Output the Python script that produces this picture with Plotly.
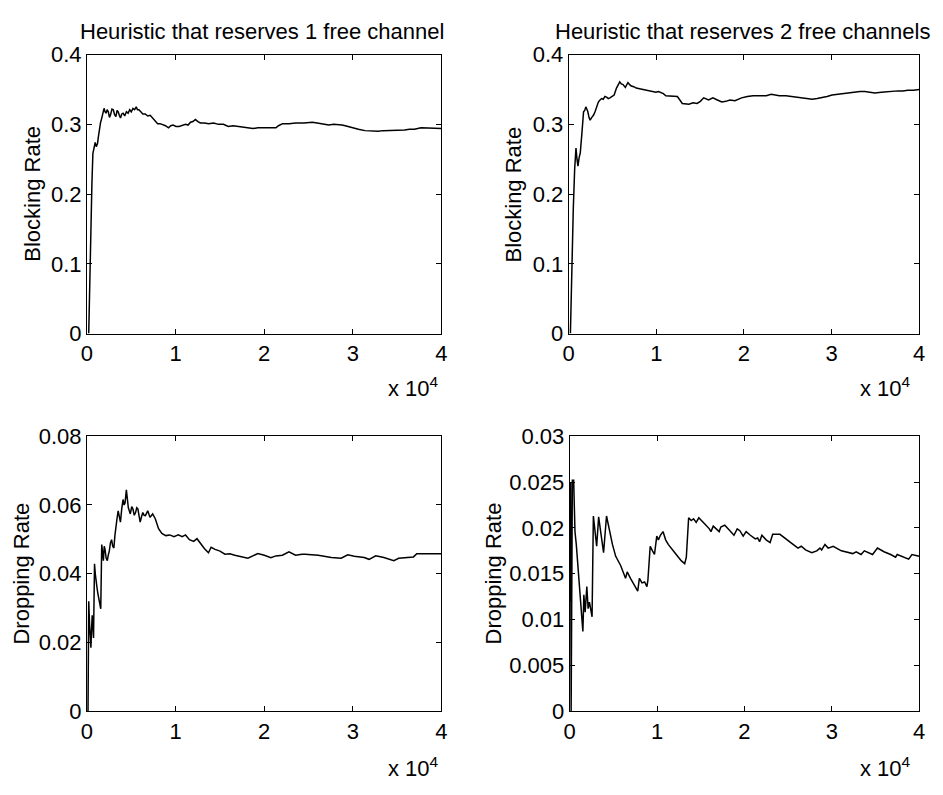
import plotly.graph_objects as go

# ---------------- data ----------------
# Top-left: blocking rate, heuristic reserving 1 free channel
bl1_x = [200, 330, 446, 560, 668, 800, 928, 1050, 1187, 1300, 1410, 1540, 1670, 1800, 1930, 2040, 2150,
         2280, 2410, 2540, 2670, 2820, 2970, 3120, 3265, 3400, 3525, 3650, 3785, 3930, 4080, 4260, 4450,
         4640, 4820, 5000, 5195, 5380, 5565, 5700, 5860, 6080, 6300, 6580, 6860, 7140, 7420, 7700, 7980,
         8250, 8530, 8860, 9200, 9460, 9720, 10050, 10390, 10760, 11130, 11410, 11690, 11960, 12240, 12520,
         12800, 13270, 13730, 14290, 14840, 15400, 15950, 16500, 17070, 17620, 18180, 18730, 19290, 19850,
         20400, 20870, 21330, 21610, 21890, 22080, 22800, 23570, 24500, 25430, 25980, 26540, 27290, 27850,
         28400, 28780, 29150, 29890, 30640, 31380, 32120, 32860, 33420, 33980, 34720, 35280, 35840, 36400,
         36950, 37700, 38250, 38810, 39400, 40000]
bl1_y = [0.000, 0.090, 0.140, 0.215, 0.258, 0.266, 0.274, 0.268, 0.272, 0.283, 0.297, 0.303, 0.309, 0.318,
         0.323, 0.318, 0.316, 0.321, 0.318, 0.310, 0.314, 0.322, 0.321, 0.314, 0.311, 0.320, 0.318, 0.313,
         0.309, 0.315, 0.316, 0.312, 0.318, 0.316, 0.321, 0.318, 0.323, 0.321, 0.325, 0.321, 0.321, 0.318,
         0.315, 0.315, 0.312, 0.313, 0.309, 0.306, 0.301, 0.301, 0.300, 0.298, 0.295, 0.298, 0.299, 0.297,
         0.297, 0.299, 0.300, 0.299, 0.303, 0.304, 0.307, 0.304, 0.302, 0.302, 0.301, 0.302, 0.300, 0.300,
         0.297, 0.298, 0.297, 0.296, 0.295, 0.294, 0.295, 0.295, 0.295, 0.294, 0.295, 0.298, 0.300, 0.301,
         0.301, 0.302, 0.302, 0.303, 0.302, 0.301, 0.299, 0.300, 0.300, 0.299, 0.298, 0.295, 0.293, 0.291,
         0.290, 0.290, 0.291, 0.291, 0.292, 0.291, 0.292, 0.293, 0.293, 0.295, 0.295, 0.294, 0.294, 0.294]

# Top-right: blocking rate, heuristic reserving 2 free channels
bl2_x = [190, 280, 375, 520, 676, 826, 940, 1050, 1180, 1315, 1500, 1690, 1820, 1950, 2060, 2180, 2310,
         2440, 2630, 2820, 3000, 3190, 3380, 3570, 3750, 3940, 4130, 4320, 4510, 4700, 4940, 5180, 5450,
         5640, 5820, 6000, 6200, 6460, 6760, 6950, 7140, 7420, 7700, 8080, 8450, 8820, 9200, 9580, 9950,
         10240, 10520, 10800, 11080, 11550, 12020, 12400, 12960, 13340, 13710, 14180, 14650, 15020, 15400,
         15960, 16450, 16960, 17470, 17930, 18400, 18970, 19720, 20380, 21030, 21780, 22540, 23100, 23570,
         24040, 24790, 25540, 26290, 27040, 27790, 28350, 28920, 29480, 30050, 30610, 31170, 31920, 32680,
         33240, 33800, 34370, 34930, 35680, 36430, 37000, 37560, 38130, 38690, 39350, 40000]
bl2_y = [0.000, 0.060, 0.110, 0.180, 0.236, 0.266, 0.250, 0.240, 0.252, 0.259, 0.287, 0.318, 0.320,
         0.325, 0.322, 0.318, 0.310, 0.306, 0.310, 0.313, 0.318, 0.325, 0.332, 0.335, 0.337, 0.336, 0.340,
         0.339, 0.337, 0.338, 0.340, 0.342, 0.352, 0.357, 0.361, 0.358, 0.357, 0.353, 0.360, 0.357, 0.355,
         0.354, 0.352, 0.351, 0.350, 0.350, 0.349, 0.348, 0.346, 0.347, 0.346, 0.344, 0.341, 0.341, 0.340,
         0.340, 0.330, 0.330, 0.329, 0.331, 0.330, 0.333, 0.338, 0.335, 0.338, 0.335, 0.332, 0.333, 0.335,
         0.334, 0.338, 0.340, 0.341, 0.341, 0.341, 0.343, 0.342, 0.341, 0.341, 0.340, 0.338, 0.337, 0.336,
         0.337, 0.338, 0.340, 0.342, 0.343, 0.344, 0.345, 0.347, 0.347, 0.347, 0.346, 0.345, 0.346, 0.347,
         0.347, 0.348, 0.348, 0.349, 0.349, 0.350]

# Bottom-left: dropping rate, heuristic reserving 1 free channel
dr1_x = [120, 200, 297, 445, 520, 593, 741, 853, 940, 1038, 1130, 1223, 1320, 1409, 1490, 1557, 1668,
         1760, 1854, 1950, 2039, 2170, 2298, 2410, 2521, 2650, 2780, 2910, 3040, 3150, 3262, 3390, 3522,
         3650, 3781, 3930, 4078, 4190, 4300, 4448, 4560, 4671, 4893, 5050, 5190, 5340, 5486, 5620, 5746,
         6005, 6150, 6302, 6450, 6598, 6858, 7117, 7414, 7711, 8081, 8452, 8897, 9342, 9824, 10306, 10750,
         11121, 11566, 12048, 12418, 12789, 13271, 13716, 14012, 14457, 15013, 15570, 16125, 16680, 17423,
         18164, 18720, 19276, 20018, 20760, 21316, 22057, 22798, 23540, 24281, 24615, 26100, 27580, 28690,
         29430, 30170, 31290, 31840, 32590, 33510, 34630, 35180, 36110, 36850, 37220, 38330, 40000]
dr1_y = [0.0000, 0.0320, 0.0250, 0.0185, 0.0240, 0.0279, 0.0213, 0.0429, 0.0400, 0.0372, 0.0360, 0.0344,
         0.0330, 0.0316, 0.0305, 0.0298, 0.0485, 0.0450, 0.0438, 0.0480, 0.0471, 0.0445, 0.0438, 0.0455,
         0.0466, 0.0490, 0.0499, 0.0480, 0.0475, 0.0510, 0.0541, 0.0560, 0.0583, 0.0560, 0.0550, 0.0590,
         0.0616, 0.0600, 0.0606, 0.0644, 0.0620, 0.0592, 0.0574, 0.0595, 0.0588, 0.0570, 0.0578, 0.0592,
         0.0589, 0.0550, 0.0565, 0.0578, 0.0570, 0.0569, 0.0583, 0.0564, 0.0574, 0.0560, 0.0531, 0.0517,
         0.0511, 0.0513, 0.0508, 0.0513, 0.0508, 0.0513, 0.0499, 0.0494, 0.0502, 0.0489, 0.0473, 0.0461,
         0.0477, 0.0471, 0.0466, 0.0457, 0.0458, 0.0454, 0.0449, 0.0445, 0.0452, 0.0459, 0.0454, 0.0447,
         0.0452, 0.0454, 0.0464, 0.0454, 0.0457, 0.0457, 0.0454, 0.0447, 0.0445, 0.0455, 0.0451, 0.0447,
         0.0442, 0.0452, 0.0447, 0.0438, 0.0445, 0.0447, 0.0449, 0.0458, 0.0458, 0.0458]

# Bottom-right: dropping rate, heuristic reserving 2 free channels
dr2_x = [40, 100, 160, 300, 450, 600, 750, 1050, 1315, 1504, 1616, 1767, 1955, 2105, 2255, 2556, 2706,
         2894, 3082, 3308, 3571, 3872, 4210, 4511, 4887, 5263, 5826, 6390, 6578, 6954, 7330, 7781, 7969,
         8270, 8571, 8834, 8947, 9210, 9473, 9698, 9962, 10150, 10375, 10676, 10976, 11277, 12029, 12781,
         13157, 13345, 13608, 13908, 14171, 14472, 14773, 15036, 15487, 15976, 16164, 16427, 16804, 17104,
         17291, 17743, 18231, 18795, 19171, 19472, 19848, 20186, 20675, 21238, 21502, 21727, 21990, 22478,
         22930, 23230, 24058, 24809, 25560, 26125, 26500, 26990, 27700, 28270, 28640, 28830, 29210, 29580,
         30150, 31090, 31840, 32400, 32780, 33340, 33720, 34280, 34660, 35220, 35970, 36730, 37290, 37480,
         38230, 38790, 39170, 40000]
dr2_y = [0.0120, 0.0250, 0.0000, 0.0252, 0.0252, 0.0196, 0.0182, 0.0140, 0.0108, 0.0087, 0.0127, 0.0108,
         0.0136, 0.0112, 0.0119, 0.0103, 0.0213, 0.0192, 0.0180, 0.0212, 0.0192, 0.0173, 0.0213, 0.0198,
         0.0182, 0.0169, 0.0159, 0.0145, 0.0152, 0.0145, 0.0138, 0.0131, 0.0145, 0.0140, 0.0141, 0.0136,
         0.0143, 0.0180, 0.0175, 0.0171, 0.0191, 0.0187, 0.0192, 0.0196, 0.0187, 0.0182, 0.0173, 0.0164,
         0.0161, 0.0168, 0.0211, 0.0208, 0.0210, 0.0206, 0.0211, 0.0208, 0.0204, 0.0199, 0.0196, 0.0202,
         0.0199, 0.0196, 0.0201, 0.0203, 0.0198, 0.0192, 0.0199, 0.0197, 0.0191, 0.0196, 0.0192, 0.0188,
         0.0189, 0.0185, 0.0192, 0.0187, 0.0184, 0.0193, 0.0193, 0.0187, 0.0182, 0.0178, 0.0180, 0.0176,
         0.0173, 0.0175, 0.0178, 0.0176, 0.0182, 0.0178, 0.0180, 0.0175, 0.0173, 0.0172, 0.0174, 0.0171,
         0.0175, 0.0173, 0.0171, 0.0178, 0.0174, 0.0171, 0.0168, 0.0171, 0.0168, 0.0166, 0.0171, 0.0169]

titles = ["Heuristic that reserves 1 free channel", "Heuristic that reserves 2 free channels"]
ylabels = ["Blocking Rate", "Blocking Rate", "Dropping Rate", "Dropping Rate"]
x_tickvals = [0, 10000, 20000, 30000, 40000]
x_ticktext = ["0", "1", "2", "3", "4"]
y_ranges = [[0, 0.4], [0, 0.4], [0, 0.08], [0, 0.03]]
y_tickvals = [[0, 0.1, 0.2, 0.3, 0.4], [0, 0.1, 0.2, 0.3, 0.4],
              [0, 0.02, 0.04, 0.06, 0.08], [0, 0.005, 0.01, 0.015, 0.02, 0.025, 0.03]]
y_ticktext = [["0", "0.1", "0.2", "0.3", "0.4"], ["0", "0.1", "0.2", "0.3", "0.4"],
              ["0", "0.02", "0.04", "0.06", "0.08"],
              ["0", "0.005", "0.01", "0.015", "0.02", "0.025", "0.03"]]
exp_label = "x 10<sup>4</sup>"

# ---------------- figure ----------------
W, H = 943, 795
FONT = "Liberation Sans, Arial, Helvetica, sans-serif"
FS = 22

# plot boxes in pixels: (left, right, top, bottom)
boxes = [(82, 441, 44, 332), (570, 925, 44, 332), (82, 441, 438, 722), (571, 925, 438, 722)]
ylab_px = [26, 514, 16, 494]
exp_px = [(441, 387), (919, 387), (441, 779), (919, 779)]

series = [(bl1_x, bl1_y), (bl2_x, bl2_y), (dr1_x, dr1_y), (dr2_x, dr2_y)]

fig = go.Figure()
layout = dict(
    width=W, height=H, margin=dict(l=0, r=0, t=0, b=0),
    paper_bgcolor="white", plot_bgcolor="white", showlegend=False,
    font=dict(family=FONT, size=FS, color="black"),
)
annotations = []
for i, ((xs, ys), (l, r, t, b)) in enumerate(zip(series, boxes)):
    n = "" if i == 0 else str(i + 1)
    fig.add_trace(go.Scatter(x=xs, y=ys, mode="lines", line=dict(color="black", width=1.5),
                             xaxis="x" + n, yaxis="y" + n, hoverinfo="skip"))
    common = dict(showline=True, linecolor="black", linewidth=1, mirror="ticks", ticks="inside",
                  ticklen=5, tickcolor="black", tickwidth=1, showgrid=False, zeroline=False,
                  tickfont=dict(family=FONT, size=FS, color="black"))
    layout["xaxis" + n] = dict(domain=[l / W, r / W], anchor="y" + n, range=[0, 40000],
                               tickvals=x_tickvals, ticktext=x_ticktext, **common)
    layout["yaxis" + n] = dict(domain=[1 - b / H, 1 - t / H], anchor="x" + n, range=y_ranges[i],
                               tickvals=y_tickvals[i], ticktext=y_ticktext[i], **common)
    annotations.append(dict(text=ylabels[i], xref="paper", yref="paper", x=ylab_px[i] / W,
                            y=1 - ((t + b) / 2) / H, textangle=-90, showarrow=False,
                            xanchor="center", yanchor="middle", font=dict(size=FS)))
    ex, ey = exp_px[i]
    annotations.append(dict(text=exp_label, xref="paper", yref="paper", x=ex / W,
                            y=1 - ey / H, showarrow=False, xanchor="right", yanchor="middle",
                            font=dict(size=FS)))

for j, title in enumerate(titles):
    l, r, t, b = boxes[j]
    annotations.append(dict(text=title, xref="paper", yref="paper", x=((l + r) / 2 - 2) / W,
                            y=1 - 20 / H, showarrow=False, xanchor="center", yanchor="middle",
                            font=dict(size=FS)))

layout["annotations"] = annotations
fig.update_layout(**layout)
fig.write_html("out.html")
